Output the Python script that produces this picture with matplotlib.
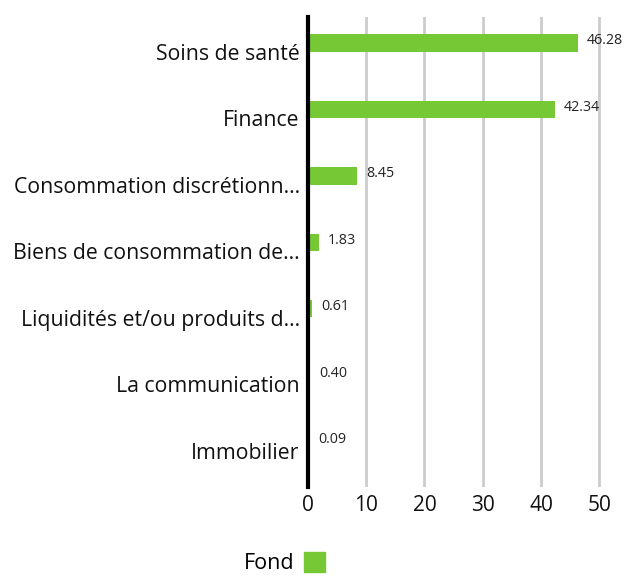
import matplotlib
matplotlib.use("Agg")
import matplotlib.pyplot as plt
import matplotlib.transforms as mtransforms
from matplotlib.patches import Patch

categories = ["Soins de santé", "Finance", "Consommation discrétionn...",
              "Biens de consommation de...", "Liquidités et/ou produits d...",
              "La communication", "Immobilier"]
values = [46.28, 42.34, 8.45, 1.83, 0.61, 0.40, 0.09]
xticks = [0, 10, 20, 30, 40, 50]
series_name = "Fond"
green = "#76c935"

plt.rcParams['font.family'] = ['Open Sans', 'DejaVu Sans']
fig = plt.figure(figsize=(6.25, 5.76), dpi=100)
ax = fig.add_axes([0.4928, 0.1545, 0.968 - 0.4928, 0.9705 - 0.1545])

y = list(range(len(categories)))
ax.barh(y, values, height=0.26, color=green, zorder=3)
for yi, v in zip(y, values):
    ax.text(v + 1.6, yi - 0.03, f"{v:.2f}", fontsize=10.3, va="center", ha="left", color="#222222")

ax.set_ylim(6.68, -0.39)
ax.set_xlim(0, 51)
ax.set_yticks(y)
ax.set_yticklabels(categories, fontsize=15.3, color="#111111")
ax.set_xticks(xticks)
ax.set_xticklabels([str(t) for t in xticks], fontsize=15, color="#111111")
ax.tick_params(axis="both", length=0)
ax.tick_params(axis="y", pad=6)
ax.tick_params(axis="x", pad=6)
offset = mtransforms.ScaledTranslation(0, -9 / 100, fig.dpi_scale_trans)
for lbl in ax.get_yticklabels():
    lbl.set_transform(lbl.get_transform() + offset)
for s in ["top", "right", "bottom"]:
    ax.spines[s].set_visible(False)
ax.spines["left"].set_linewidth(3)
ax.spines["left"].set_color("black")
ax.spines["left"].set_zorder(5)
ax.xaxis.grid(True, color="#cccccc", linewidth=2, zorder=0)
ax.set_axisbelow(True)

fig.legend(handles=[Patch(color=green, label=series_name)], loc="lower left",
           bbox_to_anchor=(0.36, -0.031), frameon=False, markerfirst=False,
           fontsize=15.5, handlelength=1.0, handleheight=1.0, handletextpad=0.4)

fig.savefig("out.png", dpi=100)
